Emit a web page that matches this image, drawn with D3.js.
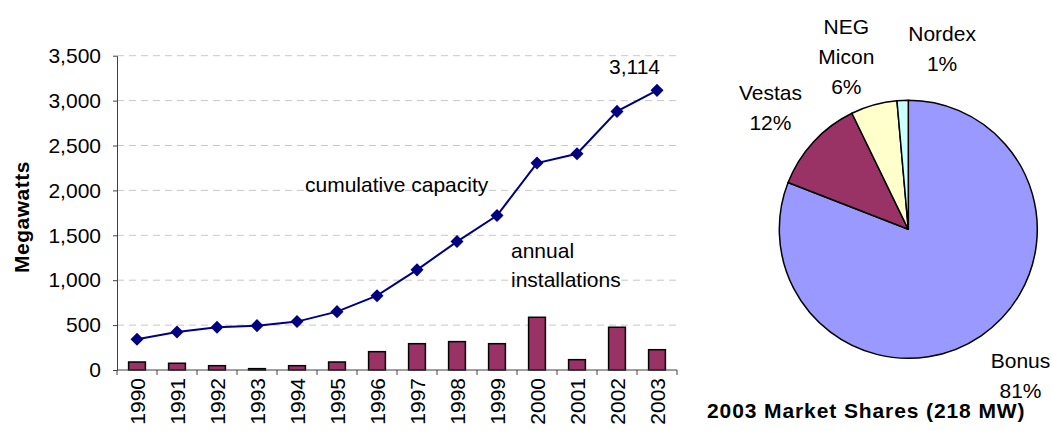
<!DOCTYPE html>
<html><head><meta charset="utf-8">
<script src="https://cdn.jsdelivr.net/npm/d3@7"></script>
<style>
html,body{margin:0;padding:0;background:#fff;}
text{font-family:"Liberation Sans",Arial,sans-serif;}
</style></head>
<body>
<svg id="chart" width="1052" height="431"></svg>
<script>
// ---- data ----
const years = ["1990","1991","1992","1993","1994","1995","1996","1997","1998","1999","2000","2001","2002","2003"];
const cumulative = [342,424,476,494,539,650,828,1115,1430,1720,2304,2408,2880,3114];
const annual = [89,75,48,15,48,89,204,293,316,293,587,115,476,226];
const yTicks = [0,500,1000,1500,2000,2500,3000,3500];
const pieNames = ["Bonus","Vestas","NEG Micon","Nordex"];
const pieShares = [80.9,11.9,5.8,1.4];
const pieLabels = [["Bonus","81%"],["Vestas","12%"],["NEG","Micon","6%"],["Nordex","1%"]];
const pieColors = ["#9999FF","#993366","#FFFFCC","#CCFFFF"];

const svg = d3.select("#chart");
const FS = 21;
const FF = "'Liberation Sans', Arial, sans-serif";

// ---- left chart ----
const x = d3.scaleBand().domain(years).range([117,677]).padding(0);
const y = d3.scaleLinear().domain([0,3500]).range([370,55.7]);
const cx = d => x(d) + x.bandwidth()/2;

// gridlines
svg.append("g").selectAll("line").data(yTicks.filter(v=>v>0)).join("line")
  .attr("x1",117).attr("x2",677).attr("y1",d=>y(d)).attr("y2",d=>y(d))
  .attr("stroke","#c8c8c8").attr("stroke-width",1).attr("stroke-dasharray","7,5");

// y axis
const yAxis = svg.append("g").attr("transform","translate(117,0)")
  .call(d3.axisLeft(y).tickValues(yTicks).tickSize(4).tickSizeOuter(0).tickFormat(d3.format(",")));
yAxis.attr("font-family",FF);
yAxis.select(".domain").attr("stroke","#404040");
yAxis.selectAll(".tick line").attr("stroke","#404040");
yAxis.selectAll(".tick text").attr("font-size",FS).attr("font-family",FF)
  .attr("fill","#000").attr("x",-16);

// bars
const bw = x.bandwidth()*0.42;
svg.append("g").selectAll("rect").data(years).join("rect")
  .attr("x",(d)=>cx(d)-bw/2).attr("width",bw)
  .attr("y",(d,i)=>y(annual[i])).attr("height",(d,i)=>y(0)-y(annual[i]))
  .attr("fill","#993366").attr("stroke","#000").attr("stroke-width",1.5);

// x axis
const xg = svg.append("g");
xg.append("line").attr("x1",117).attr("x2",677).attr("y1",370).attr("y2",370).attr("stroke","#404040");
const bounds = years.map(d=>x(d)).concat([677]);
xg.selectAll("line.t").data(bounds).join("line").attr("class","t")
  .attr("x1",d=>d).attr("x2",d=>d).attr("y1",370).attr("y2",375).attr("stroke","#404040");
xg.selectAll("text").data(years).join("text")
  .attr("transform",d=>`translate(${cx(d)},378) rotate(-90)`)
  .attr("text-anchor","end").attr("dy","0.36em").attr("font-size",FS).text(d=>d);

// line
svg.append("path").datum(cumulative)
  .attr("d",d3.line().x((d,i)=>cx(years[i])).y(d=>y(d)))
  .attr("fill","none").attr("stroke","#000080").attr("stroke-width",2);
svg.append("g").selectAll("path").data(cumulative).join("path")
  .attr("d",d3.symbol(d3.symbolSquare,85))
  .attr("transform",(d,i)=>`translate(${cx(years[i])},${y(d)}) rotate(45)`)
  .attr("fill","#000080");

// annotations
svg.append("text").attr("x",cx("2003")+3).attr("y",73.5).attr("text-anchor","end")
  .attr("font-size",FS).text(d3.format(",")(cumulative[cumulative.length-1]));
svg.append("text").attr("x",305).attr("y",192).attr("font-size",FS).text("cumulative capacity");
svg.append("text").attr("x",511).attr("y",258).attr("font-size",FS).text("annual");
svg.append("text").attr("x",511).attr("y",287).attr("font-size",FS).text("installations");

// y label
svg.append("text").attr("transform","translate(29,217) rotate(-90)")
  .attr("text-anchor","middle").attr("font-size",FS).attr("font-weight","bold")
  .attr("letter-spacing",0.5).text("Megawatts");

// ---- pie ----
const pc = [908.3,229.3], R = 129;
const arcs = d3.pie().sort(null).value(d=>d).startAngle(0).endAngle(2*Math.PI)(pieShares);
const arc = d3.arc().innerRadius(0).outerRadius(R);
const pg = svg.append("g").attr("transform",`translate(${pc[0]},${pc[1]})`);
pg.selectAll("path").data(arcs).join("path").attr("d",arc)
  .attr("fill",(d,i)=>pieColors[i]).attr("stroke","#000").attr("stroke-width",1.5)
  .attr("stroke-linejoin","round");

const nudges = [-3.2,-1.2,-4.2,13.1];
const lr = 184, lh = 30;
arcs.forEach((a,i)=>{
  const ang = (a.startAngle+a.endAngle)/2 + nudges[i]*Math.PI/180;
  const lx = Math.sin(ang)*lr, ly = -Math.cos(ang)*lr;
  const lines = pieLabels[i];
  const t = pg.append("text").attr("text-anchor","middle").attr("font-size",FS);
  lines.forEach((s,k)=>{
    t.append("tspan").attr("x",lx).attr("y",ly + (k-(lines.length-1)/2)*lh + 7.5).text(s);
  });
});

svg.append("text").attr("x",707).attr("y",418).attr("font-size",FS).attr("font-weight","bold")
  .attr("letter-spacing",0.9).text("2003 Market Shares (218 MW)");
</script>
</body></html>
